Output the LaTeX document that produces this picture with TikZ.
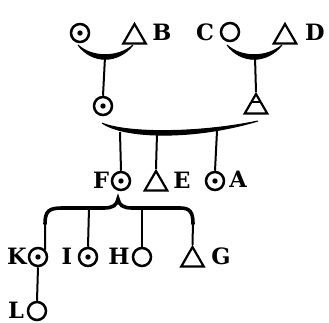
\documentclass[tikz,border=0pt]{standalone}
\usepackage{fontspec}
\setmainfont{DejaVu Serif}
\usetikzlibrary{shapes.geometric}
\begin{document}
\begin{tikzpicture}[x=1pt,y=-1pt,
  circ/.style={circle,draw,line width=2.5pt,minimum size=18pt,inner sep=0pt},
  dotc/.style={circ,path picture={\fill (path picture bounding box.center) circle (2.7pt);}},
  tri/.style={regular polygon,regular polygon sides=3,draw,line width=2.2pt,minimum size=26pt,inner sep=0pt},
  lettr/.style={font=\fontsize{22.5pt}{22.5pt}\selectfont\bfseries,inner sep=0pt},
  conn/.style={line width=2pt},
  crescent/.style={fill=black,draw=black,line width=1pt}]
\useasboundingbox (0,0) rectangle (329,323);
% symbols
\node[dotc] (c1) at (80,33) {};
\node[tri] (tB) at (134.5,37) {};
\node[lettr] (B) at (162,32) {B};
\node[lettr] (C) at (205,32) {C};
\node[circ] (cC) at (230,32) {};
\node[tri] (tD) at (285,37) {};
\node[lettr] (D) at (315,32) {D};
\node[dotc] (m1) at (103,106) {};
\node[tri,path picture={\draw[line width=1.6pt] ([yshift=2pt,xshift=-15pt]path picture bounding box.center) -- ++(30pt,0pt);}] (tM) at (256,107) {};
\node[lettr] (F) at (101,180) {F};
\node[dotc] (cF) at (121,181) {};
\node[tri] (tE) at (156,184) {};
\node[lettr] (E) at (182,180) {E};
\node[dotc] (cA) at (215,181) {};
\node[lettr] (A) at (238,179) {A};
\node[lettr] (K) at (17,256) {K};
\node[dotc] (cK) at (38,257) {};
\node[lettr] (I) at (67,256) {I};
\node[dotc] (cI) at (88,257) {};
\node[lettr] (H) at (119,256) {H};
\node[circ] (cH) at (142,257) {};
\node[tri] (tG) at (192.5,260) {};
\node[lettr] (G) at (221,256) {G};
\node[lettr] (L) at (16,310) {L};
\node[circ] (cL) at (37,311) {};
% crescents
\fill[crescent] (78,45) .. controls (92,64) and (118,64) .. (133,45)
   .. controls (118,58) and (92,58) .. (78,45);
\fill[crescent] (227,45) .. controls (241,64) and (267,64) .. (282,45)
   .. controls (267,58) and (241,58) .. (227,45);
\fill[crescent] (102,123) .. controls (125,139) and (195,140) .. (258,121)
   .. controls (195,134) and (125,133) .. (102,123);
% brace
\draw[line width=3.6pt,line cap=round] (45,224) .. controls (45,211) and (49,208) .. (62,208)
   -- (104,208) .. controls (113,208) and (117,205) .. (118,199)
   .. controls (119,205) and (123,208) .. (132,208)
   -- (180,208) .. controls (190,208) and (193,212) .. (193,224);
% coordinates on arcs
\coordinate (a1) at (105,57);
\coordinate (a2) at (255,57);
\coordinate (b1) at (120,132);
\coordinate (b2) at (157,133);
\coordinate (b3) at (217,131);
\coordinate (kK) at (45,222);
\coordinate (kI) at (89,208);
\coordinate (kH) at (142,208);
\coordinate (kG) at (193,222);
% connectors
\draw[conn] (a1) -- (m1.north);
\draw[conn] (a2) -- (tM.north);
\draw[conn] (b1) -- (cF.north);
\draw[conn] (b2) -- (tE.north);
\draw[conn] (b3) -- (cA.north);
\draw[conn] (kK) -- (cK.north east);
\draw[conn] (kI) -- (cI.north);
\draw[conn] (kH) -- (cH.north);
\draw[conn] (kG) -- (tG.north);
\draw[conn] (cK.south) -- (cL.north);
\end{tikzpicture}
\end{document}
